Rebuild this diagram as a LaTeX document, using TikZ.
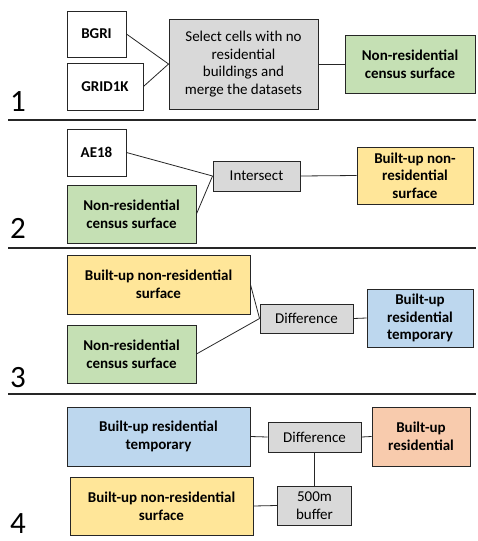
\documentclass[tikz,border=0pt]{standalone}
\usepackage{fontspec}
\setmainfont{Carlito}
\usetikzlibrary{positioning}

\definecolor{censusgreen}{HTML}{C5E0B4}
\definecolor{builtyellow}{HTML}{FFE699}
\definecolor{resblue}{HTML}{BDD7EE}
\definecolor{resorange}{HTML}{F8CBAD}
\definecolor{opgray}{HTML}{D9D9D9}
\definecolor{edgegray}{HTML}{262626}

\tikzset{
    box/.style={draw=edgegray, line width=0.9pt, align=center, inner sep=1pt,
        font=\fontsize{15}{17.7}\selectfont},
    data/.style={box, font=\fontsize{15}{17.7}\selectfont\bfseries},
    op/.style={box, fill=opgray},
    link/.style={draw=edgegray, line width=0.8pt},
    step label/.style={anchor=base west, inner sep=0pt, font=\fontsize{31}{31}\selectfont}
}

\begin{document}
\begin{tikzpicture}[x=1pt, y=-1pt]
    \useasboundingbox (0,0) rectangle (477,541);

    %% separators
    \foreach \y in {120,248,394}
        \draw[edgegray, line width=1.2pt] (8,\y) -- (476,\y);

    %% step numbers
    \node[step label] (n1) at (10,111) {1};
    \node[step label] (n2) at (10,238) {2};
    \node[step label] (n3) at (10,387) {3};
    \node[step label] (n4) at (10,533) {4};

    %% step 1
    \node[data, minimum width=59pt, minimum height=46pt] (bgri) at (96.5,34) {BGRI};
    \node[data, minimum width=76pt, minimum height=47pt] (grid) at (105,86.5) {GRID1K};
    \node[op, minimum width=149pt, minimum height=90pt] (select) at (243.5,64)
        {Select cells with no\\residential\\buildings and\\merge the datasets};
    \node[data, fill=censusgreen, minimum width=130pt, minimum height=58pt] (census1) at (410,64)
        {Non-residential\\census surface};
    \draw[link] (bgri.east) -- (select.west);
    \draw[link] (grid.east) -- (select.west);
    \draw[link] (select.east) -- (census1.west);

    %% step 2
    \node[data, minimum width=59pt, minimum height=47pt] (ae) at (96.5,152.5) {AE18};
    \node[op, minimum width=87pt, minimum height=30pt] (intersect) at (256.5,176) {Intersect};
    \node[data, fill=censusgreen, minimum width=129pt, minimum height=58pt] (census2) at (131.5,214)
        {Non-residential\\census surface};
    \node[data, fill=builtyellow, minimum width=116pt, minimum height=57pt] (nonres2) at (415,175.5)
        {Built-up non-\\residential\\surface};
    \draw[link] (ae.east) -- (intersect.west);
    \draw[link] (census2.east) -- (intersect.west);
    \draw[link] (intersect.east) -- (nonres2.west);

    %% step 3
    \node[data, fill=builtyellow, minimum width=183pt, minimum height=59pt] (nonres3) at (158.5,284.5)
        {Built-up non-residential\\surface};
    \node[data, fill=censusgreen, minimum width=129pt, minimum height=58pt] (census3) at (131.5,354)
        {Non-residential\\census surface};
    \node[op, minimum width=93pt, minimum height=29pt] (diff3) at (306.5,318.5) {Difference};
    \node[data, fill=resblue, minimum width=106pt, minimum height=58pt] (temp3) at (420,318)
        {Built-up\\residential\\temporary};
    \draw[link] (nonres3.east) -- (diff3.west);
    \draw[link] (census3.east) -- (diff3.west);
    \draw[link] (diff3.east) -- (temp3.west);

    %% step 4
    \node[data, fill=resblue, minimum width=183pt, minimum height=59pt] (temp4) at (158.5,436.5)
        {Built-up residential\\temporary};
    \node[op, minimum width=93pt, minimum height=30pt] (diff4) at (314.5,437) {Difference};
    \node[data, fill=resorange, minimum width=98pt, minimum height=59pt] (res4) at (421,436.5)
        {Built-up\\residential};
    \node[data, fill=builtyellow, minimum width=183pt, minimum height=58pt] (nonres4) at (161.5,506)
        {Built-up non-residential\\surface};
    \node[op, minimum width=74pt, minimum height=39pt] (buffer) at (314.5,505.5) {500m\\buffer};
    \draw[link] (temp4.east) -- (diff4.west);
    \draw[link] (diff4.east) -- (res4.west);
    \draw[link] (diff4.south) -- (buffer.north);
    \draw[link] (nonres4.east) -- (buffer.west);
\end{tikzpicture}
\end{document}
